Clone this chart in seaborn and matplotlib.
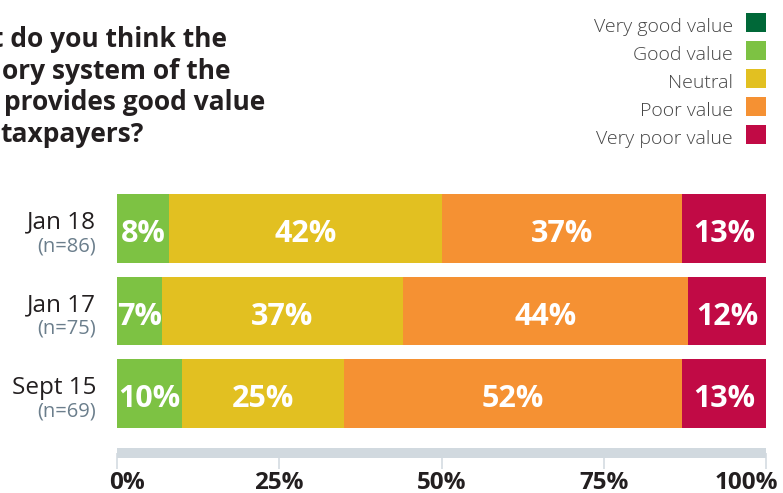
import matplotlib
matplotlib.use("Agg")
import matplotlib.pyplot as plt
from matplotlib.patches import Rectangle
from matplotlib.transforms import ScaledTranslation
import numpy as np
import pandas as pd
import seaborn as sns

# ---- data ----
periods = ["Jan 18", "Jan 17", "Sept 15"]
sample_sizes = ["(n=86)", "(n=75)", "(n=69)"]
categories = ["Very good value", "Good value", "Neutral", "Poor value", "Very poor value"]
very_good = [0, 0, 0]
good = [8, 7, 10]
neutral = [42, 37, 25]
poor = [37, 44, 52]
very_poor = [13, 12, 13]
tick_values = [0, 25, 50, 75, 100]
tick_labels = ["0%", "25%", "50%", "75%", "100%"]
title_lines = ["t do you think the", "ory system of the", "provides good value", "taxpayers?"]

colors = ["#006838", "#7dc243", "#e2c021", "#f59133", "#c10a45"]

sns.set_theme(style="white")
plt.rcParams["font.family"] = ["Open Sans", "DejaVu Sans"]

W, H = 783, 493
fig = plt.figure(figsize=(W / 100, H / 100), dpi=100)


def fx(px):
    return px / W


def fy(py):
    return 1 - py / H


# axes: x 0..100 spans pixels 117..766; bottom spine (grey band) at y=453
ax = fig.add_axes([fx(117), fy(453), fx(766) - fx(117), fy(187.25) - fy(453)])

series = [very_good, good, neutral, poor, very_poor]
df = pd.DataFrame({"period": periods})
for name, vals in zip(categories, series):
    df[name] = vals
cum = df[categories].cumsum(axis=1)

# stacked bars: draw cumulative totals from the widest down
for name, col in reversed(list(zip(categories, colors))):
    sns.barplot(data=cum.assign(period=df["period"]), x=name, y="period",
                orient="h", color=col, saturation=1, width=0.836,
                linewidth=0, ax=ax)

# value labels centred in each segment
for i, p in enumerate(periods):
    left = 0
    for name in categories:
        v = df.loc[i, name]
        if v > 0:
            ax.text(left + v / 2, i + 0.164, f"{v}%", ha="center", va="baseline",
                    color="white", fontsize=22, fontweight="bold")
        left += v

ax.set_xlim(0, 100)
ax.set_ylim(2.7212, -0.5)
ax.set_xlabel("")
ax.set_ylabel("")

for s in ["top", "right", "left"]:
    ax.spines[s].set_visible(False)
ax.spines["bottom"].set_color("#d1d9df")
ax.spines["bottom"].set_linewidth(7.2)
ax.spines["bottom"].set_capstyle("butt")

ax.set_xticks(tick_values)
ax.set_xticklabels(tick_labels, fontsize=17.5, fontweight="bold", color="#231f20")
ax.tick_params(axis="x", direction="out", length=11.5, width=1.1,
               color="#d1d9df", pad=1.5, bottom=True)
xl = ax.get_xticklabels()
xl[0].set_transform(xl[0].get_transform() + ScaledTranslation(10 / 100, 0, fig.dpi_scale_trans))
xl[-1].set_transform(xl[-1].get_transform() + ScaledTranslation(-20 / 100, 0, fig.dpi_scale_trans))

# period labels with sample sizes underneath
ax.set_yticks(range(len(periods)))
ax.set_yticklabels(periods, fontsize=17.5, color="#231f20")
ax.tick_params(axis="y", length=0, pad=15)
plt.setp(ax.get_yticklabels(), va="baseline")
ytrans = ax.get_yaxis_transform() + ScaledTranslation(-21 / 100, 0, fig.dpi_scale_trans)
for i, n in enumerate(sample_sizes):
    ax.text(0, i + 0.273, n, transform=ytrans, ha="right", va="baseline",
            fontsize=14.5, color="#6b7e8c")

# legend: labels right-aligned, swatches on the right
for k, (name, col) in enumerate(zip(categories, colors)):
    bottom = 32 + 28 * k
    fig.patches.append(Rectangle((fx(746), fy(bottom)), fx(20), fy(0) - fy(19),
                                 transform=fig.transFigure, facecolor=col,
                                 edgecolor="none"))
    fig.text(fx(733), fy(bottom), name, ha="right", va="baseline",
             fontsize=14, fontweight="light", color="#444444")

# question heading
starts = [-8, 2, 4, 0]
baselines = [47, 79, 110, 142]
for line, x0, b in zip(title_lines, starts, baselines):
    fig.text(fx(x0), fy(b), line, ha="left", va="baseline",
             fontsize=19, fontweight="bold", color="#231f20")

fig.savefig("out.png", dpi=100)
